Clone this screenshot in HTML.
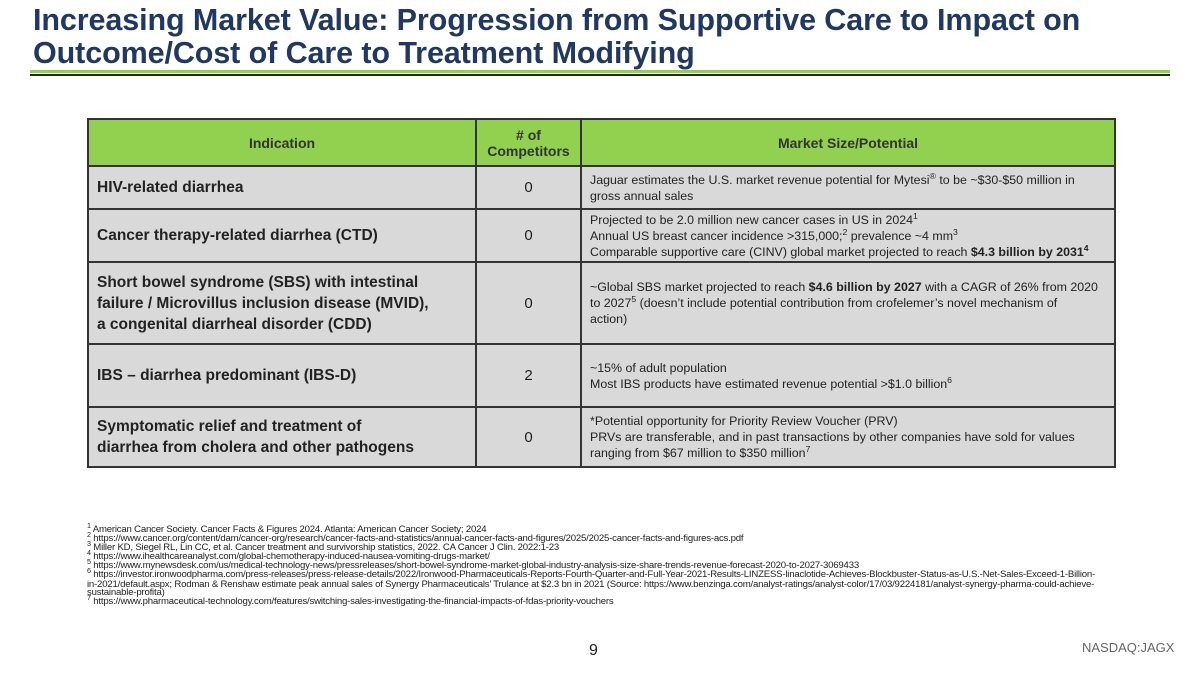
<!DOCTYPE html>
<html><head><meta charset="utf-8">
<style>
body{margin:0;width:1200px;height:675px;background:#fff;position:relative;overflow:hidden;font-family:"Liberation Sans",sans-serif;color:#1e1e1e}
.title{position:absolute;left:33px;top:4px;font-size:30.5px;font-weight:bold;color:#1f3864;line-height:33px;letter-spacing:-0.1px}
.ln1{position:absolute;left:30px;top:70px;width:1140px;height:3px;background:#92d050}
.ln2{position:absolute;left:30px;top:74px;width:1140px;height:1.5px;background:#1f2a1a}
table{position:absolute;left:87px;top:118px;width:1027px;border-collapse:collapse;table-layout:fixed}
td,th{border:2px solid #333;background:#d9d9d9;padding:0 8px;vertical-align:middle}
th{background:#92d050;font-weight:bold;font-size:14px;color:#333;text-align:center;height:45px}
td.ind{font-weight:bold;font-size:15.5px;line-height:21px;color:#222}
td.num{text-align:center;font-size:15px}
td.mk{font-size:12.4px;line-height:16px;color:#222}
.fn{position:absolute;left:87px;top:526px;width:1025px;font-size:9.6px;line-height:8.9px;color:#222;letter-spacing:-0.2px}
.fn sup{font-size:75%}
sup{font-size:70%;line-height:0}
.pg{position:absolute;left:589px;top:642px;font-size:16px}
.nas{position:absolute;left:1082px;top:640px;font-size:13px;color:#666}
</style></head><body>
<div class="title">Increasing Market Value: Progression from Supportive Care to Impact on<br>Outcome/Cost of Care to Treatment Modifying</div>
<div class="ln1"></div>
<div class="ln2"></div>
<table>
<colgroup><col style="width:388px"><col style="width:105px"><col style="width:534px"></colgroup>
<tr><th>Indication</th><th># of<br>Competitors</th><th>Market Size/Potential</th></tr>
<tr style="height:43px"><td class="ind">HIV-related diarrhea</td><td class="num">0</td><td class="mk">Jaguar estimates the U.S. market revenue potential for Mytesi<sup>®</sup> to be ~$30-$50 million in<br>gross annual sales</td></tr>
<tr style="height:53px"><td class="ind">Cancer therapy-related diarrhea (CTD)</td><td class="num">0</td><td class="mk">Projected to be 2.0 million new cancer cases in US in 2024<sup>1</sup><br>Annual US breast cancer incidence &gt;315,000;<sup>2</sup> prevalence ~4 mm<sup>3</sup><br>Comparable supportive care (CINV) global market projected to reach <b>$4.3 billion by 2031<sup>4</sup></b></td></tr>
<tr style="height:82px"><td class="ind">Short bowel syndrome (SBS) with intestinal<br>failure / Microvillus inclusion disease (MVID),<br>a congenital diarrheal disorder (CDD)</td><td class="num">0</td><td class="mk">~Global SBS market projected to reach <b>$4.6 billion by 2027</b> with a CAGR of 26% from 2020<br>to 2027<sup>5</sup> (doesn’t include potential contribution from crofelemer’s novel mechanism of<br>action)</td></tr>
<tr style="height:63px"><td class="ind">IBS – diarrhea predominant (IBS-D)</td><td class="num">2</td><td class="mk">~15% of adult population<br>Most IBS products have estimated revenue potential &gt;$1.0 billion<sup>6</sup></td></tr>
<tr style="height:60px"><td class="ind">Symptomatic relief and treatment of<br>diarrhea from cholera and other pathogens</td><td class="num">0</td><td class="mk">*Potential opportunity for Priority Review Voucher (PRV)<br>PRVs are transferable, and in past transactions by other companies have sold for values<br>ranging from $67 million to $350 million<sup>7</sup></td></tr>
</table>
<div class="fn">
<sup>1</sup> American Cancer Society. Cancer Facts &amp; Figures 2024. Atlanta: American Cancer Society; 2024<br>
<sup>2</sup> https://www.cancer.org/content/dam/cancer-org/research/cancer-facts-and-statistics/annual-cancer-facts-and-figures/2025/2025-cancer-facts-and-figures-acs.pdf<br>
<sup>3</sup> Miller KD, Siegel RL, Lin CC, et al. Cancer treatment and survivorship statistics, 2022. CA Cancer J Clin. 2022:1-23<br>
<sup>4</sup> https://www.ihealthcareanalyst.com/global-chemotherapy-induced-nausea-vomiting-drugs-market/<br>
<sup>5</sup> https://www.mynewsdesk.com/us/medical-technology-news/pressreleases/short-bowel-syndrome-market-global-industry-analysis-size-share-trends-revenue-forecast-2020-to-2027-3069433<br>
<sup>6</sup> https://investor.ironwoodpharma.com/press-releases/press-release-details/2022/Ironwood-Pharmaceuticals-Reports-Fourth-Quarter-and-Full-Year-2021-Results-LINZESS-linaclotide-Achieves-Blockbuster-Status-as-U.S.-Net-Sales-Exceed-1-Billion-<br>in-2021/default.aspx; Rodman &amp; Renshaw estimate peak annual sales of Synergy Pharmaceuticals’ Trulance at $2.3 bn in 2021 (Source: https://www.benzinga.com/analyst-ratings/analyst-color/17/03/9224181/analyst-synergy-pharma-could-achieve-<br>sustainable-profita)<br>
<sup>7</sup> https://www.pharmaceutical-technology.com/features/switching-sales-investigating-the-financial-impacts-of-fdas-priority-vouchers
</div>
<div class="pg">9</div>
<div class="nas">NASDAQ:JAGX</div>
</body></html>
